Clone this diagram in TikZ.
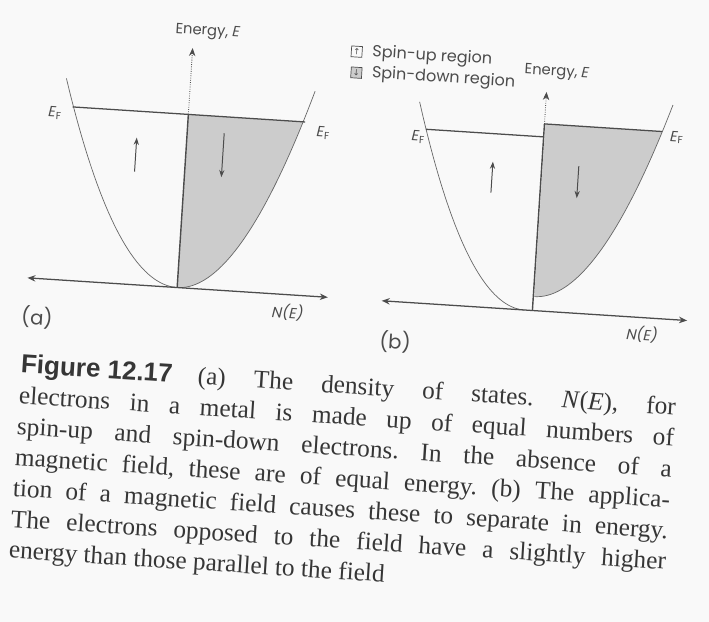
\documentclass[tikz,border=0pt]{standalone}
\usepackage{fontspec}
\setmainfont{Liberation Serif}
\newfontfamily\gothic{Poppins}
\newfontfamily\headfont{Liberation Sans}
\newfontfamily\symfont{DejaVu Sans}
\usepackage{xcolor}
\usetikzlibrary{arrows.meta}
\definecolor{paper}{gray}{0.975}
\definecolor{ink}{gray}{0.3}
\definecolor{shade}{gray}{0.8}
\newlength{\capw}\setlength{\capw}{16.4cm}
\frenchspacing

\begin{document}
\begin{tikzpicture}[
  x=0.025cm,y=-0.025cm,
  lbl/.style={font=\gothic\fontsize{10.5}{12}\selectfont,text=ink,inner sep=1pt},
  legtext/.style={font=\gothic\fontsize{11.4}{13}\selectfont,text=ink,inner sep=1pt,anchor=west},
  tag/.style={font=\gothic\fontsize{14}{16}\selectfont,text=ink,inner sep=1pt},
  capt/.style={font=\fontsize{18}{22}\selectfont,text=ink!70!black,align=left,inner sep=0pt},
  legbox/.style={draw=ink,line width=0.5pt,minimum size=0.27cm,inner sep=0pt,font=\symfont\fontsize{6}{6}\selectfont,text=ink},
  curve/.style={draw=ink!85,line width=0.5pt},
  naxis/.style={{Stealth[length=2mm,width=1.6mm]}-{Stealth[length=2mm,width=1.6mm]},draw=ink,line width=0.9pt},
  eaxis/.style={-{Stealth[length=2mm,width=1.6mm]},draw=ink,densely dotted,line width=0.6pt},
  wall/.style={draw=ink,line width=1pt},
  fermi/.style={draw=ink,line width=0.9pt},
  spin/.style={-{Stealth[length=1.8mm,width=1.3mm]},draw=ink,line width=0.7pt},
  downfill/.style={fill=shade}
]
\fill[paper] (0,0) rectangle (709,622);
\useasboundingbox (0,0) rectangle (709,622);
\begin{scope}[rotate around={-3.7:(354,311)},every node/.append style={transform shape}]
% (a)
\fill[downfill] (176,125.5) -- (291,125.5) -- plot[domain=115:0,samples=40] ({176+\x},{299-0.0131*\x*\x}) -- cycle;
\draw[curve] plot[domain=-124:125,samples=80] ({176+\x},{299-0.0131*\x*\x});
\draw[naxis] (26,299) -- (327,299);
\draw[wall] (176,299) -- (176,125.5);
\draw[eaxis] (176,125.5) -- (176,59);
\draw[fermi] (60,125.5) -- (293,125.5);
\draw[spin] (126,186) -- (126,152);
\draw[spin] (213,142) -- (213,186);
\node[lbl] (energyA) at (190,42) {Energy, {\itshape E}};
\node[lbl] (efAl) at (43,133) {{\itshape E}\textsubscript{F}};
\node[lbl] (efAr) at (312,135) {{\itshape E}\textsubscript{F}};
\node[lbl] (neA) at (288,317) {\itshape N(E)};
\node[tag] (tagA) at (38,338) {(a)};
% (b)
\fill[downfill] (533,112) -- (650,112) -- plot[domain=117.2:0,samples=40] ({533+\x},{285-0.0126*\x*\x}) -- cycle;
\draw[curve] plot[domain=-118:0,samples=50] ({524+\x},{299-0.01444*\x*\x});
\draw[curve] plot[domain=0:126,samples=50] ({533+\x},{285-0.0126*\x*\x});
\draw[naxis] (381,299) -- (687,299);
\draw[wall] (532,299) -- (532,112);
\draw[eaxis] (532,112) -- (532,80);
\draw[fermi] (414,125) -- (532,125);
\draw[fermi] (532,112) -- (650,112);
\draw[spin] (483,184) -- (483,153);
\draw[spin] (569,152) -- (569,184);
\node[lbl] (energyB) at (541,60) {Energy, {\itshape E}};
\node[lbl] (efBl) at (407,133) {{\itshape E}\textsubscript{F}};
\node[lbl] (efBr) at (665,117) {{\itshape E}\textsubscript{F}};
\node[lbl] (neB) at (643,316) {\itshape N(E)};
\node[tag] (tagB) at (397,339) {(b)};
\node[legbox] (upbox) at (340,52) {↑};
\node[legbox,fill=shade] (downbox) at (341,73) {↓};
\node[legtext] (uptext) at (354,52) {Spin-up region};
\node[legtext] (downtext) at (355,73) {Spin-down region};
% caption
\node[capt,anchor=north west] (caption) at (25,375) {%
\makebox[\capw][s]{\mbox{\headfont\bfseries\fontsize{18.5}{22}\selectfont Figure 12.17}\quad (a) The density of states. \textit{N}(\textit{E}), for}\\
\makebox[\capw][s]{electrons in a metal is made up of equal numbers of}\\
\makebox[\capw][s]{spin-up and spin-down electrons. In the absence of a}\\
\makebox[\capw][s]{magnetic field, these are of equal energy. (b) The applica-}\\
\makebox[\capw][s]{tion of a magnetic field causes these to separate in energy.}\\
\makebox[\capw][s]{The electrons opposed to the field have a slightly higher}\\
\makebox[\capw][l]{energy than those parallel to the field}};
\end{scope}
\end{tikzpicture}
\end{document}
